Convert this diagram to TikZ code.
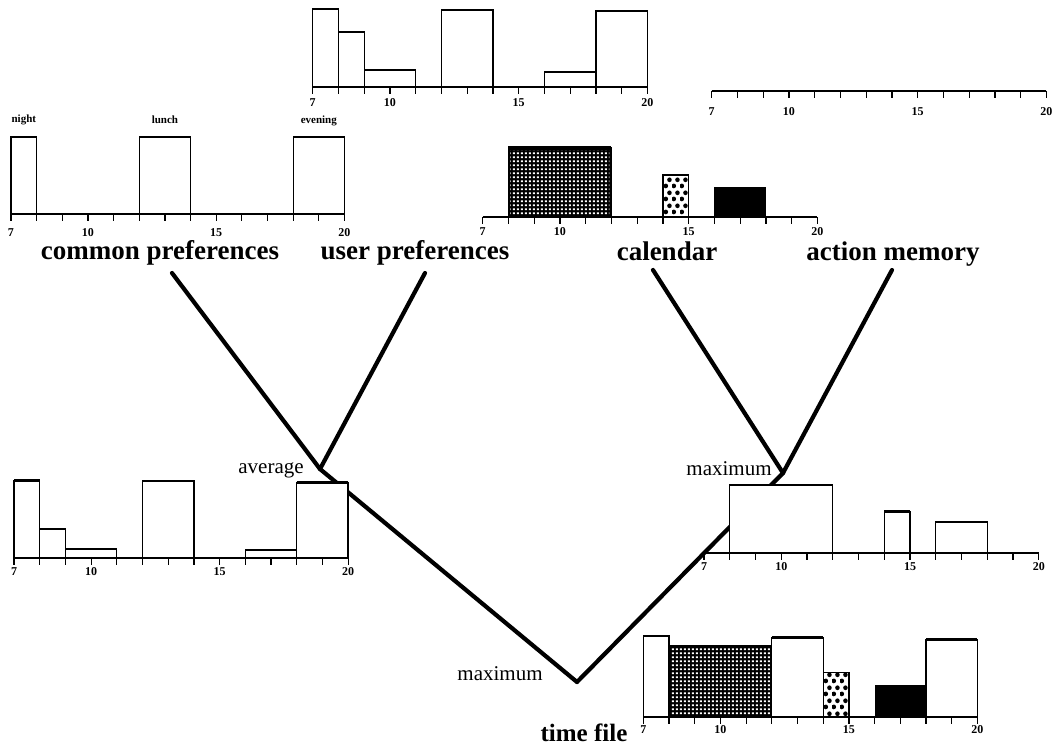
\documentclass[tikz,border=0pt]{standalone}
\usepackage{fontspec}
\setmainfont{Liberation Serif}
\usetikzlibrary{patterns}
\pgfdeclarepatternformonly{gridholes}{\pgfpointorigin}{\pgfpoint{4.2pt}{4.2pt}}{\pgfpoint{4.2pt}{4.2pt}}{\pgfpathrectangle{\pgfpoint{0.9pt}{1.0pt}}{\pgfpoint{2.5pt}{2.1pt}}\pgfusepath{fill}}
\pgfdeclarepatternformonly{bigdots}{\pgfpointorigin}{\pgfpoint{8pt}{13pt}}{\pgfpoint{8pt}{13pt}}{\pgfpathcircle{\pgfpoint{2pt}{3.25pt}}{2.5pt}\pgfpathcircle{\pgfpoint{6pt}{9.75pt}}{2.5pt}\pgfusepath{fill}}
\tikzset{
  conn/.style={line width=4.2pt, line cap=round},
  histbox/.style={draw, fill=white, line width=1.3pt},
  histtop/.style={line width=2.8pt},
  axisline/.style={line width=1.8pt},
  tickline/.style={line width=1.2pt},
  ticklab/.style={font=\bfseries\fontsize{12}{12}\selectfont, inner sep=0pt},
  biglab/.style={font=\bfseries\fontsize{27}{30}\selectfont, anchor=base, inner sep=0pt},
  oplab/.style={font=\fontsize{21}{24}\selectfont, anchor=base, inner sep=0pt},
  slotlab/.style={font=\bfseries\fontsize{11}{12}\selectfont, inner sep=0pt},
}
\newcommand\histaxis[2]{%
  \draw[axisline] (0,0) -- (13,0);
  \foreach \i in {0,...,13}{\draw[tickline] (\i,0) -- (\i,-7);}
  \node[ticklab] (#1a) at (0,-#2) {7};
  \node[ticklab] (#1b) at (3,-#2) {10};
  \node[ticklab] (#1c) at (8,-#2) {15};
  \node[ticklab] (#1d) at (13,-#2) {20};
}
\newcommand\histbar[3]{%
  \draw[histbox] (#1,0) rectangle (#2,#3);
  \draw[histtop] (#1,#3) -- (#2,#3);
}
\newcommand\gridbar[3]{%
  \fill[black] (#1,0) rectangle (#2,#3);
  \fill[pattern=gridholes, pattern color=white] ([xshift=2pt,yshift=1.5pt]#1,0) rectangle ([xshift=-2pt,yshift=-2.5pt]#2,#3);
  \draw[line width=1.3pt] (#1,0) rectangle (#2,#3);
  \draw[histtop] (#1,#3) -- (#2,#3);
}
\newcommand\dotbar[3]{%
  \fill[white] (#1,0) rectangle (#2,#3);
  \fill[pattern=bigdots, pattern color=black] (#1,0) rectangle (#2,#3);
  \draw[line width=1.3pt] (#1,0) rectangle (#2,#3);
}
\newcommand\blackbar[3]{%
  \fill[black] (#1,0) rectangle (#2,#3);
}
\begin{document}
\begin{tikzpicture}[x=1pt,y=1pt]
\useasboundingbox (0,0) rectangle (1054,-748);
\fill[white] (0,0) rectangle (1054,-748);

% labels
\node[biglab] (cp) at (160,-259) {common preferences};
\node[biglab] (up) at (415,-259) {user preferences};
\node[biglab] (cal) at (667,-260) {calendar};
\node[biglab] (am) at (893,-260) {action memory};
\node[oplab] (avg) at (271,-473) {average};
\node[oplab] (mxr) at (729,-475) {maximum};
\node[oplab] (mxb) at (500,-680) {maximum};
\node[biglab, font=\bfseries\fontsize{25}{28}\selectfont] (tf) at (584,-741) {time file};

% connector ends
\coordinate (cpTop) at (172,-273);
\coordinate (upTop) at (425,-273);
\coordinate (calTop) at (653,-270);
\coordinate (amTop) at (892,-270);
\coordinate (avgJ) at (320,-469);
\coordinate (maxJ) at (783,-473);
\coordinate (botJ) at (577,-682);

\draw[conn] (cpTop) -- (avgJ);
\draw[conn] (upTop) -- (avgJ);
\draw[conn] (calTop) -- (maxJ);
\draw[conn] (amTop) -- (maxJ);
\draw[conn] (avgJ) -- (botJ);
\draw[conn] (maxJ) -- (botJ);

% H1 user preferences
\begin{scope}[shift={(312.7,-87)}, x=25.75pt, y=1pt]
  \histbar{0}{1}{78}\histbar{1}{2}{55}\histbar{2}{4}{17}
  \histbar{5}{7}{77}\histbar{9}{11}{15}\histbar{11}{13}{76}
  \histaxis{ha}{16}
\end{scope}
% H2 action memory (empty)
\begin{scope}[shift={(711.7,-90.7)}, x=25.75pt, y=1pt]
  \histaxis{hb}{21}
\end{scope}
% H3 common preferences
\begin{scope}[shift={(11,-214)}, x=25.65pt, y=1pt]
  \histbar{0}{1}{77}\histbar{5}{7}{77}\histbar{11}{13}{77}
  \histaxis{hc}{19}
  \node[slotlab] (night) at (0.5,94) {night};
  \node[slotlab] (lunch) at (6,94) {lunch};
  \node[slotlab] (evening) at (12,93) {evening};
\end{scope}
% H4 calendar
\begin{scope}[shift={(482.7,-217)}, x=25.75pt, y=1pt]
  \gridbar{1}{5}{69.3}\dotbar{7}{8}{42}\blackbar{9}{11}{30.3}
  \histaxis{hd}{15}
\end{scope}
% H5 average
\begin{scope}[shift={(14,-557.7)}, x=25.7pt, y=1pt]
  \histbar{0}{1}{77}\histbar{1}{2}{28.7}\histbar{2}{4}{8.7}
  \histbar{5}{7}{76.7}\histbar{9}{11}{7.7}\histbar{11}{13}{75}
  \histaxis{he}{14}
\end{scope}
% H6 maximum
\begin{scope}[shift={(704,-553)}, x=25.75pt, y=1pt]
  \histbar{1}{5}{68}\histbar{7}{8}{41.3}\histbar{9}{11}{31}
  \histaxis{hf}{14}
\end{scope}
% H7 time file
\begin{scope}[shift={(643.3,-716.7)}, x=25.7pt, y=1pt]
  \histbar{0}{1}{80.7}\gridbar{1}{5}{70.7}\histbar{5}{7}{79.4}
  \dotbar{7}{8}{44}\blackbar{9}{11}{31.7}\histbar{11}{13}{77.4}
  \histaxis{hg}{13}
\end{scope}
\end{tikzpicture}
\end{document}
